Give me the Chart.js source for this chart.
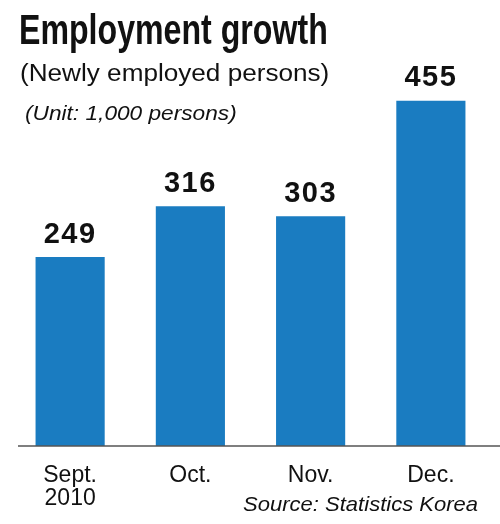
<!DOCTYPE html>
<html><head><meta charset="utf-8">
<script src="https://cdn.jsdelivr.net/npm/chart.js@4"></script>
<style>
body{margin:0;background:#fff;font-family:"Liberation Sans",Arial,sans-serif;}
#wrap{position:relative;width:500px;height:524px;overflow:hidden}
#c{position:absolute;left:0;top:0}
.t{position:absolute;white-space:nowrap;color:#111;transform-origin:left top}
</style></head><body>
<div id="wrap">
<canvas id="c" width="500" height="524"></canvas>
<div class="t" id="title" style="left:19px;top:6px;font:bold 42px 'Liberation Sans',sans-serif">Employment growth</div>
<div class="t" id="sub" style="left:20px;top:60px;font:23px 'Liberation Sans',sans-serif">(Newly employed persons)</div>
<div class="t" id="unit" style="left:25px;top:102px;font:italic 20px 'Liberation Sans',sans-serif">(Unit: 1,000 persons)</div>
<div class="t" id="src" style="left:243px;top:492px;font:italic 21px 'Liberation Sans',sans-serif">Source: Statistics Korea</div>
</div>
<script>
function fit(id,w){const e=document.getElementById(id);e.style.transform='scaleX('+(w/e.offsetWidth)+')';}
fit('title',309);fit('sub',309);fit('unit',212);fit('src',235);
const categories=[["Sept.","2010"],"Oct.","Nov.","Dec."];
const values=[249,316,303,455];
const valueLabels=["249","316","303","455"];
const plug={id:'p',afterDatasetsDraw(ch){const ctx=ch.ctx;const m=ch.getDatasetMeta(0);
ctx.save();ctx.fillStyle='#111';ctx.font="bold 29px 'Liberation Sans',sans-serif";ctx.letterSpacing='1.5px';ctx.textAlign='center';ctx.textBaseline='bottom';
m.data.forEach((b,i)=>ctx.fillText(valueLabels[i],b.x,b.y-8));
const y=ch.scales.y.getPixelForValue(0);ctx.strokeStyle='#555';ctx.lineWidth=1.5;ctx.beginPath();ctx.moveTo(18,y);ctx.lineTo(500,y);ctx.stroke();ctx.restore();}};
new Chart(document.getElementById('c'),{type:'bar',
data:{labels:categories,datasets:[{data:values,backgroundColor:'#1a7cc1',categoryPercentage:1,barPercentage:0.575}]},
options:{responsive:false,animation:false,layout:{padding:{top:6,left:10,right:9,bottom:4}},
plugins:{legend:{display:false},tooltip:{enabled:false}},
scales:{y:{display:false,min:0,max:580},
x:{grid:{display:false},border:{display:false},ticks:{color:'#111',padding:10,font:{size:23,family:"'Liberation Sans',sans-serif",lineHeight:1.0}}}}},
plugins:[plug]});
</script></body></html>
